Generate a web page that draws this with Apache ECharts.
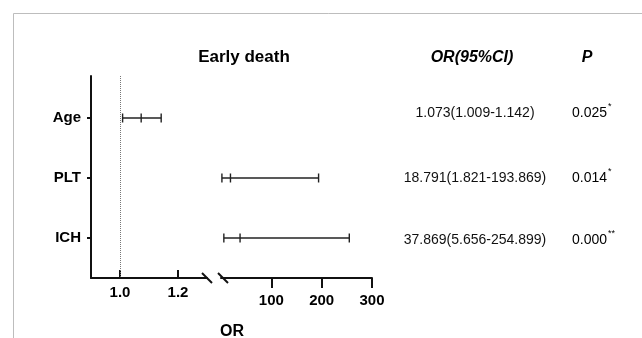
<!DOCTYPE html>
<html>
<head>
<meta charset="utf-8">
<script src="https://cdn.jsdelivr.net/npm/echarts@6/dist/echarts.min.js"></script>
<style>
html, body { margin: 0; padding: 0; background: #fff; }
#chart { width: 642px; height: 338px; }
</style>
</head>
<body>
<div id="chart"></div>
<script>
// forest plot, early death
var factors = ['Age', 'PLT', 'ICH'];
var orValue = [1.073, 18.791, 37.869];
var ciLow = [1.009, 1.821, 5.656];
var ciHigh = [1.142, 193.869, 254.899];
var pValue = ['0.025', '0.014', '0.000'];
var pStar = ['*', '*', '**'];
var leftTicks = [1.0, 1.2];
var rightTicks = [100, 200, 300];
var refValue = 1;

var FONT = '"Liberation Sans", Arial, sans-serif';
var INK = '#111';

var leftData = [];
var rightData = [];
for (let i = 0; i < factors.length; i++) {
  var item = [ciLow[i], ciHigh[i], orValue[i], i + 1];
  if (ciHigh[i] < 1.3) leftData.push(item);
  else rightData.push(item);
}

function renderBar (params, api) {
  var y = api.value(3);
  var lo = api.coord([api.value(0), y]);
  var hi = api.coord([api.value(1), y]);
  var mid = api.coord([api.value(2), y]);
  var style = { stroke: '#222', lineWidth: 1.4 };
  function cap (p) {
    return { type: 'line', shape: { x1: p[0], y1: p[1] - 4.5, x2: p[0], y2: p[1] + 4.5 }, style: style };
  }
  return {
    type: 'group',
    children: [
      { type: 'line', shape: { x1: lo[0], y1: lo[1], x2: hi[0], y2: hi[1] }, style: style },
      cap(lo), cap(mid), cap(hi)
    ]
  };
}

function yAxisFor (gi, visible) {
  return {
    gridIndex: gi,
    type: 'value',
    inverse: true,
    min: 0.3,
    max: 3.667,
    show: visible,
    splitLine: { show: false },
    axisLine: { show: true, onZero: false, lineStyle: { color: INK, width: 2 } },
    axisTick: { show: true, customValues: [1, 2, 3], length: 4, lineStyle: { color: INK, width: 2 } },
    axisLabel: {
      customValues: [1, 2, 3],
      formatter: function (v) { return factors[Math.round(v) - 1] },
      margin: 10,
      color: '#000',
      fontFamily: FONT,
      fontWeight: 'bold',
      fontSize: 15
    }
  }
}

var rowTextY = [113, 178, 240];
var graphics = [
  { type: 'rect', shape: { x: 13.5, y: 13.5, width: 700, height: 400 }, style: { fill: 'none', stroke: '#bdbdbd', lineWidth: 1 } },
  { type: 'line', shape: { x1: 202, y1: 273, x2: 212, y2: 283 }, style: { stroke: INK, lineWidth: 2 } },
  { type: 'line', shape: { x1: 218, y1: 273, x2: 228, y2: 283 }, style: { stroke: INK, lineWidth: 2 } },
  { type: 'text', x: 244, y: 57, style: { text: 'Early death', font: 'bold 17px ' + FONT, fill: '#000', align: 'center', verticalAlign: 'middle' } },
  { type: 'text', x: 472, y: 58, style: { text: 'OR(95%CI)', font: 'italic bold 16px ' + FONT, fill: '#000', align: 'center', verticalAlign: 'middle' } },
  { type: 'text', x: 587, y: 58, style: { text: 'P', font: 'italic bold 16px ' + FONT, fill: '#000', align: 'center', verticalAlign: 'middle' } },
  { type: 'text', x: 232, y: 332, style: { text: 'OR', font: 'bold 16px ' + FONT, fill: '#000', align: 'center', verticalAlign: 'middle' } }
];
for (let i = 0; i < factors.length; i++) {
  graphics.push({
    type: 'text', x: 475, y: rowTextY[i],
    style: {
      text: orValue[i].toFixed(3) + '(' + ciLow[i].toFixed(3) + '-' + ciHigh[i].toFixed(3) + ')',
      font: '14px ' + FONT, fill: INK, align: 'center', verticalAlign: 'middle'
    }
  });
  graphics.push({
    type: 'text', x: 572, y: rowTextY[i] - 2,
    style: {
      text: '{v|' + pValue[i] + '}{s|' + pStar[i] + '}',
      align: 'left', verticalAlign: 'middle',
      rich: {
        v: { fontFamily: FONT, fontSize: 14, color: INK, lineHeight: 18, verticalAlign: 'bottom' },
        s: { fontFamily: FONT, fontSize: 9, color: INK, lineHeight: 9, verticalAlign: 'top', padding: [0, 0, 0, 1] }
      }
    }
  });
}

var myChart = echarts.init(document.getElementById('chart'));
var option = {
  animation: false,
  backgroundColor: '#fff',
  grid: [
    { left: 91, top: 76, width: 116, height: 202 },
    { left: 221, top: 76, width: 151, height: 202 }
  ],
  xAxis: [{
    gridIndex: 0,
    type: 'value',
    min: 0.9,
    max: 1.3,
    splitLine: { show: false },
    axisLine: { onZero: false, lineStyle: { color: INK, width: 2 } },
    axisTick: { customValues: leftTicks, inside: true, length: 8, lineStyle: { color: INK, width: 2 } },
    axisLabel: {
      customValues: leftTicks,
      formatter: function (v) { return v.toFixed(1) },
      margin: 7, color: '#000', fontFamily: FONT, fontWeight: 'bold', fontSize: 15
    }
  }, {
    gridIndex: 1,
    type: 'value',
    min: 0,
    max: 300,
    splitLine: { show: false },
    axisLine: { onZero: false, lineStyle: { color: INK, width: 2 } },
    axisTick: { customValues: rightTicks, length: 10, lineStyle: { color: INK, width: 2 } },
    axisLabel: {
      customValues: rightTicks,
      margin: 15, color: '#000', fontFamily: FONT, fontWeight: 'bold', fontSize: 15
    }
  }],
  yAxis: [yAxisFor(0, true), yAxisFor(1, false)],
  series: [{
    type: 'custom',
    xAxisIndex: 0,
    yAxisIndex: 0,
    renderItem: renderBar,
    encode: { x: [0, 1, 2], y: 3 },
    data: leftData,
    markLine: {
      silent: true,
      symbol: ['none', 'none'],
      label: { show: false },
      lineStyle: { type: 'dotted', color: '#777', width: 1 },
      data: [{ xAxis: refValue }]
    }
  }, {
    type: 'custom',
    xAxisIndex: 1,
    yAxisIndex: 1,
    renderItem: renderBar,
    encode: { x: [0, 1, 2], y: 3 },
    data: rightData
  }],
  graphic: graphics
};
myChart.setOption(option);
</script>
</body>
</html>
